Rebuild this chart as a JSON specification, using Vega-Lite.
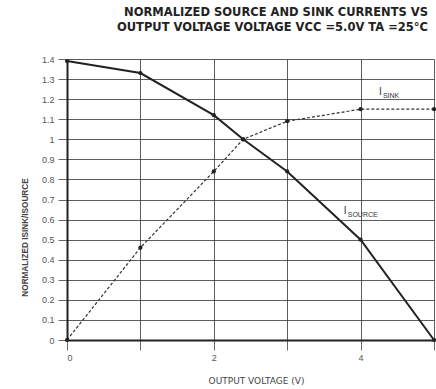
{
  "$schema": "https://vega.github.io/schema/vega-lite/v6.json",
  "width": 367,
  "height": 281,
  "autosize": {"type": "none"},
  "padding": {"left": 67, "top": 59, "right": 2, "bottom": 49},
  "background": "#ffffff",
  "title": {
    "text": ["NORMALIZED SOURCE AND SINK CURRENTS VS", "OUTPUT VOLTAGE VOLTAGE VCC =5.0V TA =25°C"],
    "anchor": "end",
    "font": "DejaVu Sans",
    "fontSize": 11.5,
    "fontWeight": "bold",
    "color": "#222222",
    "lineHeight": 15,
    "offset": 22,
    "dx": -10,
    "limit": 0
  },
  "datasets": {
    "curves": [
      {"series": "source", "v": 0, "i": 1.39},
      {"series": "source", "v": 1, "i": 1.33},
      {"series": "source", "v": 2, "i": 1.12},
      {"series": "source", "v": 2.4, "i": 1.0},
      {"series": "source", "v": 3, "i": 0.84},
      {"series": "source", "v": 4, "i": 0.5},
      {"series": "source", "v": 5, "i": 0},
      {"series": "sink", "v": 0, "i": 0},
      {"series": "sink", "v": 1, "i": 0.46},
      {"series": "sink", "v": 2, "i": 0.84},
      {"series": "sink", "v": 2.4, "i": 1.0},
      {"series": "sink", "v": 3, "i": 1.09},
      {"series": "sink", "v": 4, "i": 1.15},
      {"series": "sink", "v": 5, "i": 1.15}
    ],
    "labels": [
      {"main": "I", "sub": "SINK", "v": 4.25, "i": 1.235},
      {"main": "I", "sub": "SOURCE", "v": 3.77, "i": 0.645}
    ]
  },
  "config": {
    "view": {"stroke": null},
    "axis": {
      "labelFont": "Liberation Sans",
      "titleFont": "DejaVu Sans",
      "labelColor": "#555555",
      "titleColor": "#444444",
      "labelFontSize": 9,
      "labelOverlap": false,
      "gridColor": "#333333",
      "gridWidth": 0.8,
      "gridOpacity": 1,
      "tickColor": "#444444",
      "tickWidth": 0.8,
      "domainColor": "#222222",
      "domainWidth": 2
    }
  },
  "encoding": {
    "x": {
      "field": "v", "type": "quantitative",
      "scale": {"domain": [0, 5], "nice": false},
      "axis": {
        "values": [0, 1, 2, 3, 4, 5],
        "format": "d",
        "labelExpr": "datum.value % 2 === 0 && datum.value < 5 ? datum.label : ''",
        "tickSize": 10,
        "labelPadding": 3,
        "title": "OUTPUT VOLTAGE (V)",
        "titleFontWeight": "normal",
        "titleFontSize": 9,
        "titleX": 189,
        "titlePadding": 14
      }
    },
    "y": {
      "field": "i", "type": "quantitative",
      "scale": {"domain": [0, 1.4], "nice": false},
      "axis": {
        "values": [0, 0.1, 0.2, 0.3, 0.4, 0.5, 0.6, 0.7, 0.8, 0.9, 1, 1.1, 1.2, 1.3, 1.4],
        "format": ".2~f",
        "tickSize": 9,
        "labelPadding": 4,
        "title": "NORMALIZED ISINK/ISOURCE",
        "titleFont": "Liberation Sans",
        "titleFontWeight": "bold",
        "titleFontSize": 8.2,
        "titleY": 178,
        "titlePadding": 12
      }
    }
  },
  "layer": [
    {
      "data": {"name": "curves"},
      "mark": {"type": "line", "color": "#222222", "strokeWidth": 2},
      "transform": [{"filter": "datum.series === 'source'"}]
    },
    {
      "data": {"name": "curves"},
      "mark": {"type": "line", "color": "#333333", "strokeWidth": 1.2, "strokeDash": [3, 2]},
      "transform": [{"filter": "datum.series === 'sink'"}]
    },
    {
      "data": {"name": "curves"},
      "mark": {"type": "circle", "color": "#222222", "size": 18, "opacity": 1}
    },
    {
      "data": {"name": "labels"},
      "mark": {"type": "text", "font": "Liberation Sans", "fontSize": 10, "color": "#333333", "align": "left", "baseline": "middle"},
      "encoding": {"text": {"field": "main"}}
    },
    {
      "data": {"name": "labels"},
      "mark": {"type": "text", "font": "Liberation Sans", "fontSize": 7, "color": "#333333", "align": "left", "baseline": "middle", "dx": 4, "dy": 4},
      "encoding": {"text": {"field": "sub"}}
    }
  ]
}
